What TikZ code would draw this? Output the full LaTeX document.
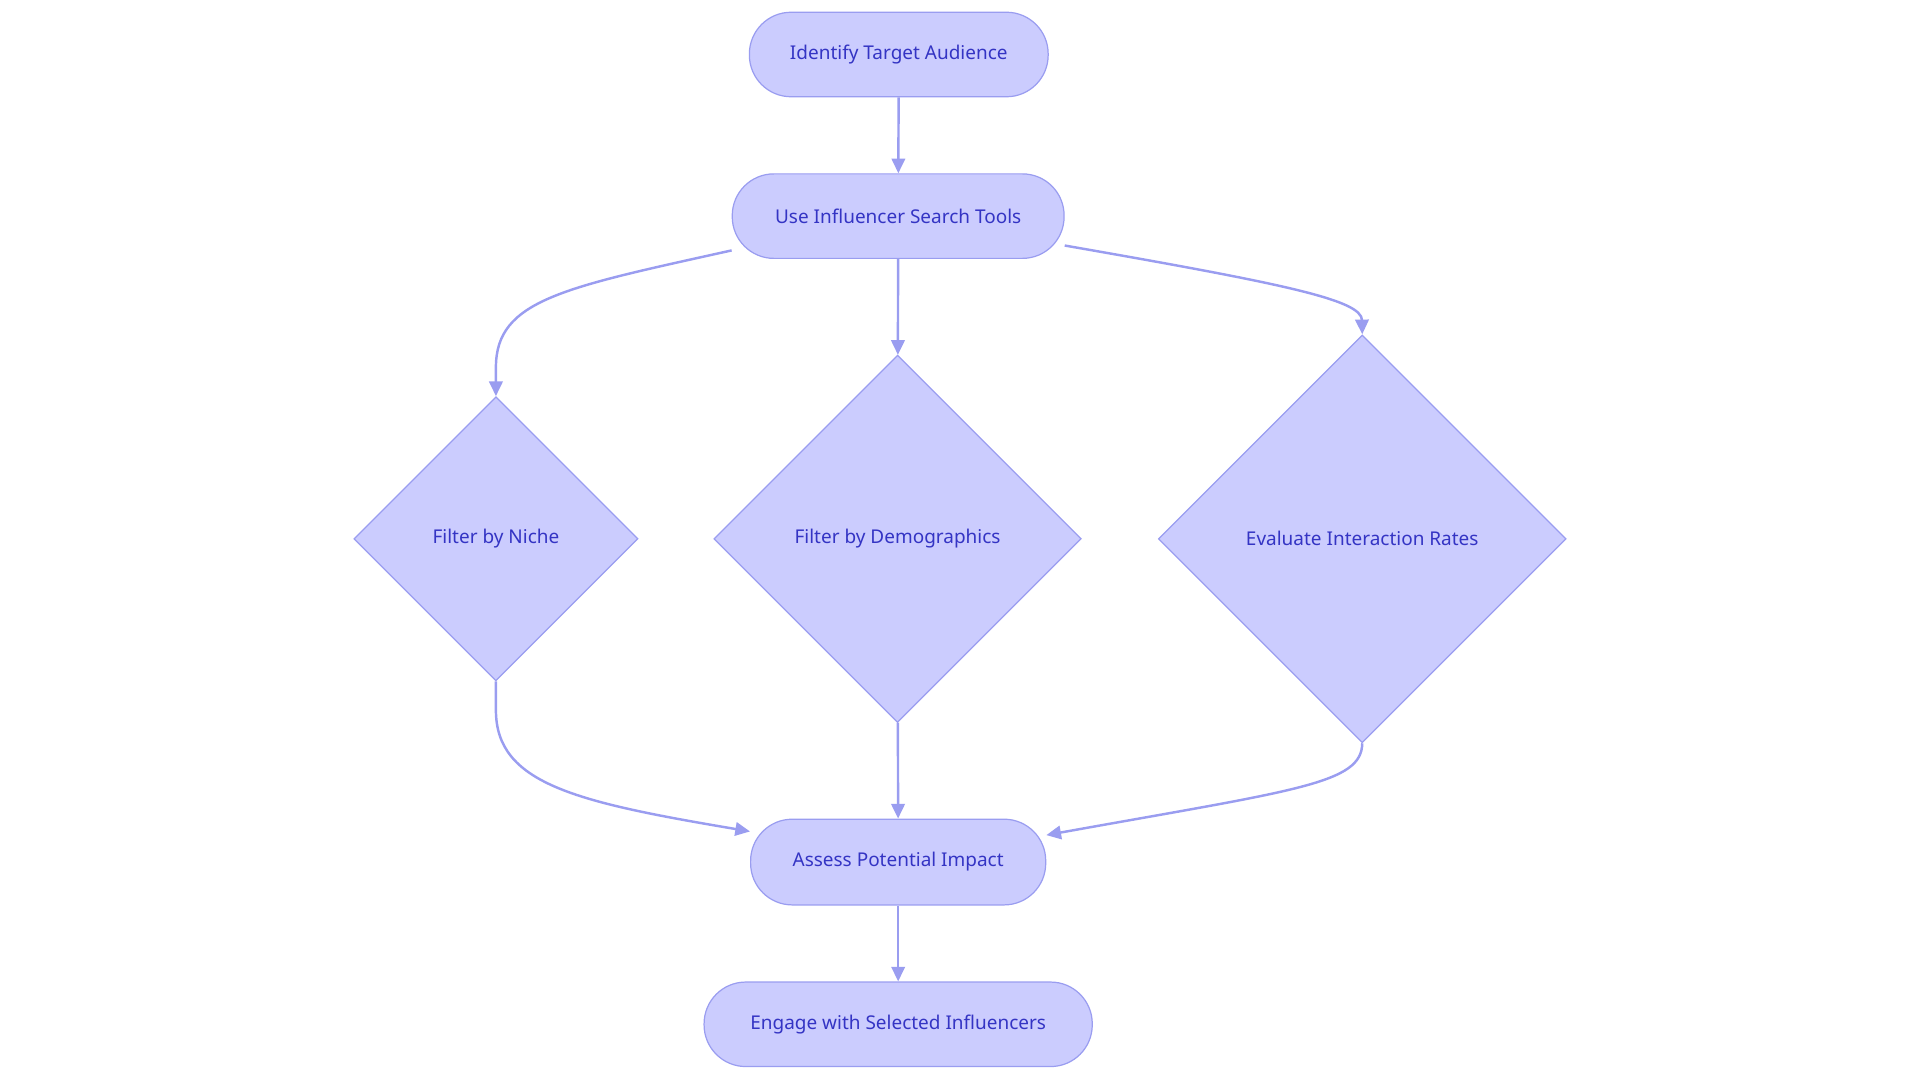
\documentclass[tikz,border=0pt]{standalone}
\usepackage{fontspec}
\setmainfont{Noto Sans}
\usetikzlibrary{shapes.geometric,arrows.meta,calc}
\definecolor{fillc}{HTML}{CBCCFE}
\definecolor{linec}{HTML}{9A9DF0}
\definecolor{textc}{HTML}{3434C4}
\begin{document}
\begin{tikzpicture}[x=1pt,y=-1pt,
  base/.style={fill=fillc,draw=linec,line width=1pt,text=textc,font=\fontsize{15.5}{18}\selectfont,inner sep=0pt},
  term/.style={base,rectangle,rounded corners=34pt,minimum height=69pt},
  dec/.style={base,diamond,aspect=1},
  edge/.style={draw=linec,line width=2pt,-{Triangle[length=12pt,width=11pt]}}]
\useasboundingbox (0,0) rectangle (1568,884);
\node[term,minimum width=244pt] (A) at (734,44.5) {Identify Target Audience};
\node[term,minimum width=271pt] (B) at (733.5,176.5) {Use Influencer Search Tools};
\node[dec,minimum size=232pt] (C) at (405,440) {Filter by Niche};
\node[dec,minimum size=300pt] (D) at (733,440) {Filter by Demographics};
\node[dec,minimum size=333pt] (E) at (1112.5,440) {Evaluate Interaction Rates};
\node[term,minimum width=241pt,minimum height=70pt] (F) at (733.5,704) {Assess Potential Impact};
\node[term,minimum width=317pt] (G) at (733.5,836.5) {Engage with Selected Influencers};
\draw[edge] (A) -- (B);
\draw[edge] (B) -- (D);
\draw[edge] ($(B.west)+(0,28)$) .. controls (460,235) and (405,245) .. (405,300) -- (C.north);
\draw[edge] ($(B.east)+(0,24)$) .. controls (1050,232) and (1112,245) .. (E.north);
\draw[edge] (D) -- (F);
\draw[edge] (C.south) -- (405,580) .. controls (405,640) and (470,655) .. ($(F.west)+(0,-25)$);
\draw[edge] (E.south) .. controls (1112,640) and (1060,645) .. ($(F.east)+(0,-22)$);
\draw[edge] (F) -- (G);
\end{tikzpicture}
\end{document}
